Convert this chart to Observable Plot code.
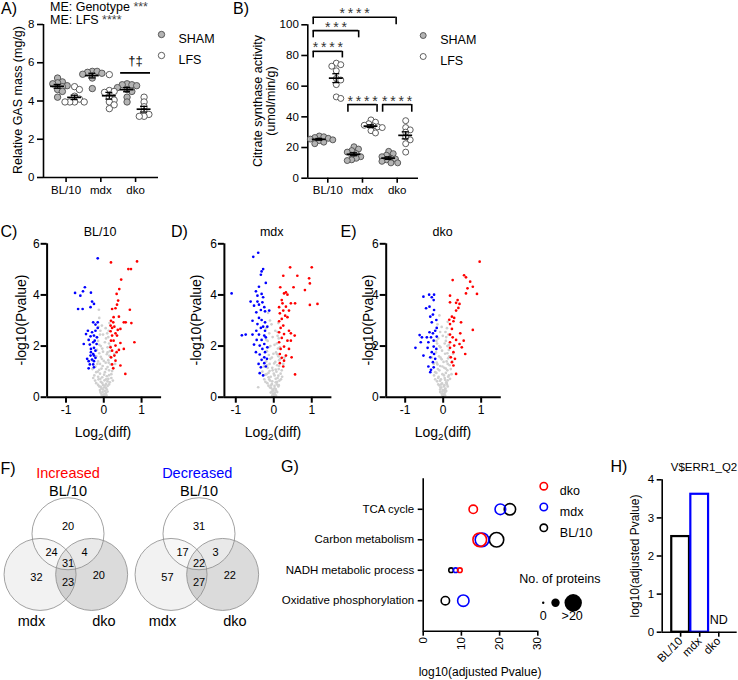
<!DOCTYPE html>
<html><head><meta charset="utf-8">
<script src="https://cdn.jsdelivr.net/npm/d3@7"></script>
<script src="https://cdn.jsdelivr.net/npm/@observablehq/plot@0.6"></script>
<style>
body{margin:0;background:#fff;}
#fig{position:relative;width:738px;height:680px;overflow:hidden;background:#fff;font-family:"Liberation Sans",Arial,Helvetica,sans-serif;color:#000;}
.t{position:absolute;white-space:nowrap;transform:translate(-50%,-50%);line-height:1;}
.lm{position:absolute;white-space:nowrap;transform:translateY(-50%);line-height:1;}
.rot{position:absolute;white-space:nowrap;transform:translate(-50%,-50%) rotate(-90deg);line-height:1;text-align:center;}
sub{font-size:0.7em;vertical-align:-0.3em;line-height:0;}
</style></head><body><div id="fig"></div>
<script>
// ---------------- DATA ----------------
const genotypes = ["BL/10", "mdx", "dko"];
const conditions = ["SHAM", "LFS"];
// A) Relative GAS mass (mg/g)
const gas_BL10_SHAM = [5.2, 5.0, 4.95, 4.9, 4.8, 4.75, 4.6, 4.5, 4.2];
const gas_BL10_LFS  = [4.75, 4.6, 4.25, 4.1, 3.95, 3.95, 3.95, 3.95];
const gas_mdx_SHAM  = [5.55, 5.55, 5.5, 5.45, 5.4, 5.2, 4.65];
const gas_mdx_LFS   = [5.38, 4.55, 4.5, 4.45, 4.2, 4.05, 3.95, 3.8, 3.6];
const gas_dko_SHAM  = [4.9, 4.85, 4.85, 4.8, 4.7, 4.6, 4.5, 4.2, 3.95];
const gas_dko_LFS   = [4.2, 3.95, 3.7, 3.45, 3.3, 3.2, 3.2];
// B) Citrate synthase activity (umol/min/g)
const cs_BL10_SHAM = [27.5, 27, 26.5, 26, 25.5, 25, 24.5, 23.5, 22.5];
const cs_BL10_LFS  = [75, 74, 73, 70, 65, 64, 61, 53, 52];
const cs_mdx_SHAM  = [20.5, 19, 18, 17, 16, 15, 14, 13, 12, 11.5];
const cs_mdx_LFS   = [38, 36.5, 35.5, 34.5, 34, 33.5, 33, 31, 29.5];
const cs_dko_SHAM  = [17.5, 16, 15, 14, 13, 12.5, 12, 11, 10, 10];
const cs_dko_LFS   = [37.5, 33, 31.5, 30, 27, 25, 22.5, 17];
// C) volcano BL/10  [log2(diff), -log10(P)]
const volcC_blue = [[-0.16,5.43],[-0.5,4.3],[-0.76,4.08],[-0.55,4.14],[-0.62,3.97],[-0.34,4.09],[-0.31,3.74],[-0.26,3.65],[-0.35,3.52],[-0.68,3.45],[-0.56,3.45],[-0.28,2.93],[-0.16,2.93],[-0.22,2.84],[-0.16,2.71],[-0.42,2.6],[-0.31,2.54],[-0.22,2.6],[-0.47,2.47],[-0.26,2.41],[-0.35,2.38],[-0.18,2.34],[-0.4,2.24],[-0.24,2.21],[-0.28,2.15],[-0.53,2.08],[-0.19,2.08],[-0.37,2.06],[-0.26,1.93],[-0.34,1.89],[-0.34,1.76],[-0.22,1.82],[-0.28,1.69],[-0.44,1.5],[-0.35,1.63],[-0.26,1.63],[-0.22,1.54],[-0.31,1.47],[-0.4,1.41],[-0.26,1.41],[-0.37,1.28],[-0.28,1.28],[-0.4,1.13],[-0.26,1.17]];
const volcC_red = [[0.19,5.27],[0.88,5.31],[0.65,5.01],[0.72,5.01],[0.46,4.6],[0.41,4.23],[0.34,4.04],[0.38,3.78],[0.35,3.62],[0.31,3.48],[0.22,3.45],[0.69,3.42],[0.4,3.15],[0.26,3.13],[0.19,2.99],[0.25,2.93],[0.53,2.93],[0.58,2.93],[0.73,2.9],[0.18,2.8],[0.28,2.76],[0.22,2.71],[0.44,2.67],[0.37,2.63],[0.18,2.58],[0.31,2.5],[0.22,2.41],[0.35,2.41],[0.19,2.21],[0.26,2.21],[0.44,2.12],[0.81,2.15],[0.31,2.02],[0.18,1.95],[0.53,1.89],[0.4,1.85],[0.22,1.82],[0.34,1.76],[0.28,1.63],[0.19,1.56],[0.31,1.43],[0.22,1.28],[0.44,1.24],[0.25,1.13],[0.57,0.91]];
const volcC_gray = [[-0.13,3.42],[-0.12,3.1],[0.15,2.9],[-0.14,2.75],[0.13,2.6],[-0.1,2.45],[0.12,2.35],[-0.15,2.2],[0.14,2.1],[-0.08,2.0],[0.1,1.95],[-0.18,1.85],[0.16,1.8],[-0.12,1.72],[0.08,1.68],[-0.2,1.6],[0.2,1.55],[-0.05,1.5],[0.12,1.45],[-0.15,1.4],[0.05,1.35],[-0.1,1.3],[0.18,1.28],[-0.22,1.2],[0.1,1.18],[-0.06,1.12],[0.14,1.05],[-0.16,1.0],[0.03,0.98],[-0.1,0.92],[0.2,0.9],[-0.25,0.85],[0.08,0.82],[-0.04,0.78],[0.12,0.72],[-0.14,0.7],[0.02,0.66],[-0.08,0.6],[0.16,0.58],[-0.2,0.55],[0.06,0.52],[-0.02,0.48],[0.1,0.44],[-0.12,0.42],[0.0,0.38],[-0.06,0.34],[0.08,0.3],[-0.1,0.28],[0.03,0.24],[-0.03,0.2],[0.06,0.16],[-0.07,0.14],[0.01,0.1],[-0.02,0.06],[0.04,0.04],[0,0.02],[-0.3,1.1],[0.25,1.15],[-0.28,0.75],[0.24,0.65],[0.3,1.3],[-0.32,1.45],[0.28,1.7],[-0.09,2.6],[0.06,2.3],[-0.04,1.9],
  [-0.05,2.8],[0.05,2.7],[-0.02,2.45],[0.09,2.5],[-0.19,2.35],[0.03,2.15],[-0.12,2.05],[0.17,2.0],[-0.02,1.78],[0.1,1.75],[-0.08,1.58],[0.15,1.62],[0.0,1.42],[-0.17,1.3],[0.13,1.35],[-0.03,1.22],[0.06,1.1],[-0.12,1.07],[0.22,1.02],[-0.2,0.98],[0.01,0.88],[0.14,0.86],[-0.15,0.8],[0.06,0.7],[-0.09,0.72],[0.2,0.75],[-0.23,0.65],[0.1,0.62],[-0.04,0.56],[0.03,0.45],[-0.15,0.48],[0.14,0.5],[-0.08,0.4],[0.06,0.36],[-0.02,0.3],[0.1,0.22],[-0.09,0.2],[0.02,0.12],[-0.05,0.08],[0.07,0.08]];
// D) volcano mdx
const volcD_blue = [[-0.41,5.65],[-0.54,5.49],[-0.28,5.01],[-0.32,4.92],[-0.34,4.79],[-0.21,4.47],[-0.39,4.32],[-0.47,4.14],[-1.11,4.06],[-0.32,4.04],[-0.43,3.97],[-0.28,3.91],[-0.61,3.74],[-0.43,3.74],[-0.3,3.71],[-0.52,3.58],[-0.39,3.62],[-0.25,3.52],[-0.34,3.41],[-0.23,3.36],[-0.12,3.39],[-0.46,3.32],[-0.39,3.1],[-0.56,2.99],[-0.32,3.02],[-0.23,2.93],[-0.43,2.86],[-0.28,2.76],[-0.17,2.76],[-0.34,2.71],[-0.46,2.6],[-0.23,2.6],[-0.84,2.42],[-0.74,2.45],[-0.56,2.45],[-0.39,2.45],[-0.25,2.41],[-0.45,2.24],[-0.32,2.24],[-0.21,2.34],[-0.52,2.06],[-0.37,2.02],[-0.25,2.08],[-0.17,1.95],[-0.3,1.89],[-0.47,1.76],[-0.23,1.76],[-0.37,1.67],[-0.25,1.56],[-0.18,1.5],[-0.32,1.46],[-0.4,1.3],[-0.25,1.33],[-0.34,1.17],[-0.21,1.2],[-0.37,0.94],[-0.28,0.85]];
const volcD_red = [[0.43,5.08],[1.0,5.08],[0.25,4.75],[0.62,4.75],[0.93,4.65],[0.95,4.45],[0.17,4.3],[0.52,4.3],[0.82,4.19],[0.32,4.1],[0.27,4.06],[0.36,4.01],[0.21,3.8],[0.23,3.67],[0.45,3.67],[0.56,3.67],[0.95,3.61],[1.15,3.65],[0.14,3.52],[0.32,3.54],[0.25,3.39],[0.4,3.39],[0.16,3.28],[0.3,3.19],[0.21,3.06],[0.36,3.13],[0.14,2.97],[0.25,2.8],[0.18,2.71],[0.4,2.6],[0.14,2.54],[0.27,2.47],[0.45,2.5],[0.55,2.41],[0.21,2.32],[0.36,2.21],[0.14,2.15],[0.45,2.21],[0.27,1.98],[0.18,1.89],[0.4,1.89],[0.16,1.69],[0.32,1.63],[0.21,1.54],[0.47,1.56],[0.27,1.43],[0.16,1.33],[0.25,1.2],[0.56,0.89]];
const volcD_gray = [[-0.15,3.3],[-0.1,3.0],[0.12,2.9],[-0.2,2.7],[0.1,2.55],[-0.12,2.5],[0.13,2.3],[-0.16,2.2],[0.08,2.1],[-0.09,2.0],[0.11,1.9],[-0.18,1.8],[0.06,1.75],[-0.13,1.65],[0.12,1.6],[-0.05,1.55],[0.14,1.45],[-0.2,1.4],[0.04,1.38],[-0.11,1.3],[0.09,1.25],[-0.16,1.15],[0.13,1.1],[-0.03,1.05],[0.07,1.0],[-0.14,0.95],[0.18,0.92],[-0.22,0.88],[0.02,0.85],[-0.08,0.8],[0.1,0.75],[-0.12,0.7],[0.15,0.65],[-0.04,0.62],[0.05,0.58],[-0.17,0.55],[0.08,0.5],[-0.07,0.46],[0.12,0.42],[-0.1,0.38],[0.02,0.35],[-0.03,0.3],[0.06,0.26],[-0.05,0.22],[0.03,0.18],[-0.02,0.14],[0.01,0.1],[0,0.05],[0.02,0.02],[-0.41,0.39],[0.25,1.3],[-0.26,1.2],[0.22,0.8],[-0.25,0.7],[0.28,1.55],[-0.3,1.0],
  [-0.06,2.85],[0.04,2.6],[-0.03,2.35],[0.1,2.4],[-0.2,2.25],[0.02,2.05],[-0.14,1.95],[0.16,1.95],[-0.01,1.7],[0.09,1.68],[-0.09,1.5],[0.17,1.5],[0.01,1.32],[-0.18,1.25],[0.14,1.22],[-0.04,1.15],[0.05,1.08],[-0.11,1.02],[0.21,1.05],[-0.19,0.9],[0.0,0.92],[0.12,0.84],[-0.14,0.78],[0.05,0.72],[-0.1,0.65],[0.19,0.7],[-0.22,0.6],[0.09,0.6],[-0.05,0.52],[0.02,0.44],[-0.14,0.45],[0.13,0.47],[-0.07,0.36],[0.05,0.32],[-0.01,0.26],[0.09,0.2],[-0.08,0.18],[0.03,0.11],[-0.04,0.07],[0.06,0.06]];
// E) volcano dko
const volcE_blue = [[-0.52,3.93],[-0.37,4.01],[-0.3,3.91],[-0.24,4.01],[-0.25,3.8],[-0.45,3.48],[-0.36,3.54],[-0.24,3.41],[-0.27,3.23],[-0.34,3.15],[-0.18,3.02],[-0.3,2.93],[-0.17,2.71],[-0.21,2.6],[-0.36,2.54],[-0.62,2.43],[-0.27,2.5],[-0.43,2.34],[-0.56,2.34],[-0.32,2.34],[-0.17,2.37],[-0.25,2.21],[-0.39,2.15],[-0.59,2.15],[-0.73,1.93],[-0.41,1.93],[-0.25,1.98],[-0.18,1.89],[-0.3,1.76],[-0.52,1.63],[-0.24,1.69],[-0.34,1.56],[-0.21,1.5],[-0.27,1.37],[-0.39,1.2],[-0.25,1.17],[-0.32,1.07],[-0.34,0.98]];
const volcE_red = [[0.96,5.3],[0.55,4.77],[0.6,4.69],[0.25,4.58],[0.71,4.52],[0.78,4.32],[0.64,4.26],[0.89,4.04],[0.6,4.06],[0.18,3.97],[0.38,3.8],[0.18,3.71],[0.34,3.69],[0.43,3.65],[0.4,3.49],[0.34,3.39],[0.23,3.15],[0.29,3.1],[0.16,3.03],[0.27,2.97],[0.47,2.93],[0.18,2.86],[0.78,2.63],[0.23,2.67],[0.18,2.45],[0.45,2.5],[0.25,2.34],[0.34,2.24],[0.54,2.21],[0.18,2.15],[0.43,2.08],[0.29,2.02],[0.49,1.95],[0.18,1.93],[0.58,1.69],[0.27,1.76],[0.2,1.56],[0.31,1.5],[0.23,1.37],[0.27,1.24],[0.34,0.91]];
const volcE_gray = [[-0.1,3.2],[0.12,2.95],[-0.15,2.85],[0.1,2.7],[-0.08,2.55],[0.14,2.45],[-0.13,2.3],[0.07,2.2],[-0.16,2.1],[0.11,2.0],[-0.07,1.95],[0.15,1.85],[-0.19,1.75],[0.05,1.7],[-0.11,1.6],[0.13,1.52],[-0.04,1.48],[0.09,1.4],[-0.17,1.35],[0.17,1.25],[-0.08,1.22],[0.03,1.15],[-0.14,1.1],[0.11,1.05],[-0.21,0.98],[0.07,0.95],[-0.02,0.9],[0.15,0.85],[-0.12,0.8],[0.04,0.75],[-0.06,0.7],[0.12,0.66],[-0.16,0.62],[0.08,0.58],[-0.03,0.54],[0.1,0.5],[-0.1,0.46],[0.02,0.42],[-0.05,0.38],[0.06,0.34],[-0.08,0.3],[0.03,0.26],[-0.02,0.22],[0.05,0.18],[-0.04,0.14],[0.01,0.1],[0,0.05],[-0.01,0.02],[0.24,1.4],[-0.25,1.3],[0.22,0.9],[-0.24,0.85],[0.26,1.7],[-0.3,1.55],
  [-0.04,2.75],[0.06,2.55],[-0.01,2.4],[0.08,2.35],[-0.18,2.2],[0.04,2.1],[-0.1,2.0],[0.15,2.05],[-0.03,1.82],[0.11,1.72],[-0.07,1.55],[0.16,1.6],[0.01,1.38],[-0.15,1.28],[0.12,1.3],[-0.02,1.2],[0.07,1.12],[-0.1,1.05],[0.2,1.1],[-0.18,0.95],[0.02,0.85],[0.13,0.8],[-0.13,0.75],[0.05,0.68],[-0.08,0.64],[0.18,0.72],[-0.21,0.7],[0.09,0.55],[-0.05,0.5],[0.03,0.47],[-0.13,0.5],[0.12,0.42],[-0.07,0.38],[0.05,0.3],[-0.01,0.28],[0.08,0.24],[-0.08,0.2],[0.02,0.13],[-0.03,0.09],[0.05,0.07]];
// F) Venn counts, regions: [BL/10 only, BL/10∩mdx, all three, BL/10∩dko, mdx only, mdx∩dko, dko only]
const vennSets = ["BL/10", "mdx", "dko"];
const vennPanels = ["Increased", "Decreased"];
const vennIncreased = [20, 24, 31, 4, 32, 23, 20];
const vennDecreased = [31, 17, 22, 3, 57, 27, 22];
// G) pathway enrichment, log10(adjusted Pvalue) and number of proteins
const pathways = ["TCA cycle", "Carbon metabolism", "NADH metabolic process", "Oxidative phosphorylation"];
const enrichBL10 = [22.7, 19.2, 7.3, 5.8];
const enrichMdx  = [20.2, 15.4, 8.5, 10.5];
const enrichDko  = [13.1, 14.8, 9.6, null];
const proteinsBL10 = [12, 16, 3, 8];
const proteinsMdx  = [11, 15, 3, 12];
const proteinsDko  = [8, 15, 3, null];
const proteinLegend = [0, 8, 20];
// H) V$ERR1_Q2 log10(adjusted Pvalue); dko not detected
const errValues = [2.51, 3.62, null];

// ---------------- HELPERS ----------------
const FONT = '"Liberation Sans", Arial, Helvetica, sans-serif';
const fig = document.getElementById("fig");
const intFmt = d => String(d);
function put(svg, left, top) {
  svg.style.position = "absolute"; svg.style.left = left + "px"; svg.style.top = top + "px";
  svg.style.overflow = "visible"; fig.appendChild(svg);
}
function lab(html, x, y, size, cls = "t", color) {
  const d = document.createElement("div");
  d.className = cls; d.style.left = x + "px"; d.style.top = y + "px"; d.style.fontSize = size + "px";
  if (color) d.style.color = color;
  d.innerHTML = html; fig.appendChild(d);
}
const sty = fs => ({background: "transparent", fontFamily: FONT, fontSize: fs + "px", color: "#000"});

function buildSwarm(series, yPer, xPer, r) {
  const rows = [], stats = [];
  for (const s of series) {
    const cx = s.gi + (s.cond === "SHAM" ? -0.245 : 0.245);
    const pts = s.values.map(v => ({v, cond: s.cond}));
    const placed = [];
    for (const p of pts.slice().sort((a, b) => b.v - a.v)) {
      const py = p.v * yPer;
      let off = 0;
      for (let k = 0; k < 60; k++) {
        const c = k === 0 ? 0 : ((k % 2) ? 1 : -1) * Math.ceil(k / 2) * 0.75 * r;
        if (placed.every(q => Math.hypot(q.o - c, q.py - py) >= 1.45 * r)) { off = c; break; }
      }
      placed.push({o: off, py});
      p.x = cx + off / xPer;
    }
    rows.push(...pts);
    const m = d3.mean(s.values), se = d3.deviation(s.values) / Math.sqrt(s.values.length);
    stats.push({x: cx, mean: m, lo: m - se, hi: m + se});
  }
  return {rows, stats};
}

function scatterPanel(cfg, series, extra) {
  const innerW = cfg.W - cfg.mL - cfg.mR, innerH = cfg.H - cfg.mT - cfg.mB;
  const xPer = innerW / (cfg.xd[1] - cfg.xd[0]), yPer = innerH / (cfg.yd[1] - cfg.yd[0]);
  const {rows, stats} = buildSwarm(series, yPer, xPer, cfg.r);
  const svg = Plot.plot({
    width: cfg.W, height: cfg.H, marginLeft: cfg.mL, marginRight: cfg.mR, marginTop: cfg.mT, marginBottom: cfg.mB,
    x: {domain: cfg.xd}, y: {domain: cfg.yd},
    style: sty(11.5),
    marks: [
      Plot.ruleY([cfg.yd[0]], {strokeWidth: 1.6}),
      Plot.ruleX([cfg.xd[0]], {strokeWidth: 1.6}),
      Plot.axisY({ticks: cfg.yTicks, tickFormat: intFmt, tickSize: 6, tickPadding: 3, strokeWidth: 1.6, label: null}),
      Plot.axisX({ticks: [0, 1, 2], tickFormat: i => genotypes[i], tickSize: 5, tickPadding: 3, strokeWidth: 1.6, label: null}),
      Plot.dot(rows.filter(d => d.cond === "SHAM"), {x: "x", y: "v", r: cfg.r, fill: "#b4b4b4", stroke: "#4d4d4d", strokeWidth: 0.9}),
      Plot.dot(rows.filter(d => d.cond === "LFS"), {x: "x", y: "v", r: cfg.r, fill: "#fff", stroke: "#4d4d4d", strokeWidth: 0.9}),
      Plot.ruleY(stats, {y: "mean", x1: d => d.x - 0.2, x2: d => d.x + 0.2, strokeWidth: 1.7}),
      Plot.ruleX(stats, {x: "x", y1: "lo", y2: "hi", strokeWidth: 1.3}),
      Plot.ruleY(stats, {y: "hi", x1: d => d.x - 0.1, x2: d => d.x + 0.1, strokeWidth: 1.3}),
      Plot.ruleY(stats, {y: "lo", x1: d => d.x - 0.1, x2: d => d.x + 0.1, strokeWidth: 1.3}),
      // legend
      Plot.dot([conditions[0]], {frameAnchor: "top-right", dx: cfg.lgDx, dy: cfg.lgDy, r: cfg.r, fill: "#b4b4b4", stroke: "#4d4d4d", strokeWidth: 0.9}),
      Plot.text([conditions[0]], {frameAnchor: "top-right", dx: cfg.lgDx + 17, dy: cfg.lgDy, text: d => d, textAnchor: "start", fontSize: 12.5}),
      Plot.dot([conditions[1]], {frameAnchor: "top-right", dx: cfg.lgDx, dy: cfg.lgDy + 21, r: cfg.r, fill: "#fff", stroke: "#4d4d4d", strokeWidth: 0.9}),
      Plot.text([conditions[1]], {frameAnchor: "top-right", dx: cfg.lgDx + 17, dy: cfg.lgDy + 21, text: d => d, textAnchor: "start", fontSize: 12.5}),
      ...extra
    ]
  });
  put(svg, cfg.left, cfg.top);
}

// ---------------- PANEL A ----------------
scatterPanel(
  {left: 0, top: 0, W: 240, H: 205, mL: 43, mR: 82, mT: 24, mB: 28, xd: [-0.65, 2.66], yd: [0, 8], yTicks: [0, 2, 4, 6, 8], r: 3.2, lgDx: 3, lgDy: 10},
  [
    {gi: 0, cond: "SHAM", values: gas_BL10_SHAM}, {gi: 0, cond: "LFS", values: gas_BL10_LFS},
    {gi: 1, cond: "SHAM", values: gas_mdx_SHAM}, {gi: 1, cond: "LFS", values: gas_mdx_LFS},
    {gi: 2, cond: "SHAM", values: gas_dko_SHAM}, {gi: 2, cond: "LFS", values: gas_dko_LFS}
  ],
  [
    Plot.ruleY([{y: 5.47, x1: 1.57, x2: 2.43}], {y: "y", x1: "x1", x2: "x2", strokeWidth: 1.8}),
    Plot.text([{x: 2, y: 6.1, t: "†‡"}], {x: "x", y: "y", text: "t", fontSize: 13})
  ]
);

// ---------------- PANEL B ----------------
const csBrackets = [
  {x1: -0.42, x2: 1.97, y: 104.9, y0: 100.1, label: "****"},
  {x1: -0.42, x2: 0.89, y: 96.2, y0: 91.5, label: "***"},
  {x1: -0.42, x2: 0.42, y: 82.7, y0: 78.4, label: "****"},
  {x1: 0.58, x2: 1.42, y: 48, y0: 43, label: "****"},
  {x1: 1.58, x2: 2.42, y: 48, y0: 43, label: "****"}
];
scatterPanel(
  {left: 230, top: 0, W: 260, H: 205, mL: 77.3, mR: 72, mT: 24.3, mB: 27.3, xd: [-0.576, 2.614], yd: [0, 100], yTicks: [0, 20, 40, 60, 80, 100], r: 3, lgDx: 4.7, lgDy: 10.7},
  [
    {gi: 0, cond: "SHAM", values: cs_BL10_SHAM}, {gi: 0, cond: "LFS", values: cs_BL10_LFS},
    {gi: 1, cond: "SHAM", values: cs_mdx_SHAM}, {gi: 1, cond: "LFS", values: cs_mdx_LFS},
    {gi: 2, cond: "SHAM", values: cs_dko_SHAM}, {gi: 2, cond: "LFS", values: cs_dko_LFS}
  ],
  [
    Plot.ruleY(csBrackets, {y: "y", x1: "x1", x2: "x2", strokeWidth: 1.6}),
    Plot.ruleX(csBrackets, {x: "x1", y1: "y0", y2: "y", strokeWidth: 1.6}),
    Plot.ruleX(csBrackets, {x: "x2", y1: "y0", y2: "y", strokeWidth: 1.6}),
    Plot.text(csBrackets, {x: d => (d.x1 + d.x2) / 2, y: "y", text: d => d.label.split("").join("\u2009"), dy: -3.5, fontSize: 14, fill: "#333"})
  ]
);

// ---------------- VOLCANO C/D/E ----------------
function volcano({left, fL, fR, xd, red, blue, gray}) {
  const top = 215, H = 225, W = Math.round(fR - left + 12);
  const svg = Plot.plot({
    width: W, height: H, marginLeft: fL - left, marginRight: W - (fR - left), marginTop: 243.3 - top, marginBottom: top + H - 396.7,
    x: {domain: xd}, y: {domain: [0, 6]},
    style: sty(12),
    marks: [
      Plot.dot(gray, {x: d => d[0], y: d => d[1], r: 1.35, fill: "#cfcfcf"}),
      Plot.dot(blue, {x: d => d[0], y: d => d[1], r: 1.35, fill: "#0000ff"}),
      Plot.dot(red, {x: d => d[0], y: d => d[1], r: 1.35, fill: "#ff0000"}),
      Plot.ruleX([xd[0]], {strokeWidth: 2}),
      Plot.ruleY([0], {strokeWidth: 2}),
      Plot.axisY({ticks: [0, 2, 4, 6], tickFormat: intFmt, tickSize: 6, tickPadding: 1.5, strokeWidth: 2, label: null}),
      Plot.axisX({ticks: [-1, 0, 1], tickFormat: intFmt, tickSize: 6, tickPadding: 2, strokeWidth: 2, label: null})
    ]
  });
  put(svg, left, top);
}
volcano({left: 0, fL: 46.6, fR: 161.1, xd: [-1.5, 1.53], red: volcC_red, blue: volcC_blue, gray: volcC_gray});
volcano({left: 182, fL: 223.9, fR: 331.4, xd: [-1.3, 1.53], red: volcD_red, blue: volcD_blue, gray: volcD_gray});
volcano({left: 345, fL: 385.7, fR: 500.8, xd: [-1.5, 1.53], red: volcE_red, blue: volcE_blue, gray: volcE_gray});

// ---------------- VENN F ----------------
{
  const R = 36;
  const circleLayout = [
    {set: "mdx", cx: -0.78, cy: -1.13, fill: "#000", op: 0.05},
    {set: "dko", cx: 0.66, cy: -1.13, fill: "#000", op: 0.14},
    {set: "BL/10", cx: 0, cy: 0, fill: "#fff", op: 0.4}
  ];
  const regionLayout = [[0, 0.2], [-0.46, -0.53], [0, -0.82], [0.46, -0.53], [-0.88, -1.2], [0, -1.34], [0.86, -1.17]];
  const labelLayout = [{x: 0, y: 1.175}, {x: -1.02, y: -2.42}, {x: 1.0, y: -2.42}];
  const counts = [vennIncreased, vennDecreased];
  const circles = vennPanels.flatMap(p => circleLayout.map(c => ({panel: p, ...c})));
  const regions = vennPanels.flatMap((p, pi) => regionLayout.map((pos, k) => ({panel: p, x: pos[0], y: pos[1], n: counts[pi][k]})));
  const setLabels = vennPanels.flatMap(p => vennSets.map((s, k) => ({panel: p, text: s, ...labelLayout[k]})));
  const svg = Plot.plot({
    width: 266, height: 168, marginLeft: 0.9, marginRight: 1.9, marginTop: 0, marginBottom: 0,
    fx: {domain: vennPanels, padding: 0, axis: null},
    x: {domain: [-1.828, 1.828], axis: null}, y: {domain: [-2.687, 1.98], axis: null},
    style: sty(11),
    marks: [
      ...circleLayout.map(c => Plot.dot(circles.filter(d => d.set === c.set), {fx: "panel", x: "cx", y: "cy", r: R, fill: c.fill, fillOpacity: c.op})),
      Plot.dot(circles, {fx: "panel", x: "cx", y: "cy", r: R, fill: "none", stroke: "#8a8a8a", strokeWidth: 0.8}),
      Plot.text(regions, {fx: "panel", x: "x", y: "y", text: "n", fontSize: 11}),
      Plot.text(setLabels, {fx: "panel", x: "x", y: "y", text: "text", fontSize: 14.5}),
      Plot.text([{panel: vennPanels[0], x: 0, y: 1.667}], {fx: "panel", x: "x", y: "y", text: "panel", fontSize: 14.5, fill: "#ff0000"}),
      Plot.text([{panel: vennPanels[1], x: -0.05, y: 1.667}], {fx: "panel", x: "x", y: "y", text: "panel", fontSize: 14.5, fill: "#0000ff"})
    ]
  });
  put(svg, 0, 462);
}

// ---------------- G ----------------
{
  const mk = (vals, counts) => pathways.map((p, i) => ({i, v: vals[i], n: counts[i]})).filter(d => d.v != null);
  const series = [
    {name: "dko", color: "#ff0000"}, {name: "mdx", color: "#0000ff"}, {name: "BL/10", color: "#000"}
  ];
  const rDomain = [0, 20], rRange = [1.2, 8.7];
  const rLegend = d3.scaleLinear(rDomain, rRange);
  const svg = Plot.plot({
    width: 370, height: 210, marginLeft: 172.7, marginRight: 82.7, marginTop: 8.3, marginBottom: 49.3,
    x: {domain: [0, 30]}, y: {domain: [-1, 4], reverse: true},
    r: {type: "linear", domain: rDomain, range: rRange},
    style: sty(11.5),
    marks: [
      Plot.ruleX([0], {strokeWidth: 1.6}),
      Plot.ruleY([4], {strokeWidth: 1.6}),
      Plot.axisY({ticks: [0, 1, 2, 3], tickFormat: i => pathways[i], tickSize: 5, tickPadding: 4, strokeWidth: 1.6, label: null}),
      Plot.axisX({ticks: [0, 10, 20, 30], tickFormat: intFmt, tickRotate: -90, tickSize: 5, tickPadding: 1, strokeWidth: 1.6, label: null}),
      Plot.dot(mk(enrichBL10, proteinsBL10), {x: "v", y: "i", r: "n", stroke: "#000", strokeWidth: 1.6, fill: "none"}),
      Plot.dot(mk(enrichMdx, proteinsMdx), {x: "v", y: "i", r: "n", stroke: "#0000ff", strokeWidth: 1.6, fill: "none"}),
      Plot.dot(mk(enrichDko, proteinsDko), {x: "v", y: "i", r: "n", stroke: "#ff0000", strokeWidth: 1.6, fill: "none"}),
      ...series.flatMap((s, k) => [
        Plot.dot([s.name], {frameAnchor: "top-right", dx: 6, dy: 7.4 + 20.8 * k, r: 3.7, stroke: s.color, strokeWidth: 1.6, fill: "none"}),
        Plot.text([s.name], {frameAnchor: "top-right", dx: 22, dy: 7.4 + 20.8 * k, text: d => d, textAnchor: "start", fontSize: 12.5})
      ]),
      Plot.text(["No. of proteins"], {frameAnchor: "bottom-right", dx: 22, dy: -48.4, text: d => d, textAnchor: "middle", fontSize: 12.5}),
      ...proteinLegend.map((v, k) => Plot.dot([v], {frameAnchor: "bottom-right", dx: [5.4, 17.7, 35.4][k], dy: -28.4, r: rLegend(v), fill: "#000"})),
      Plot.text(["0"], {frameAnchor: "bottom-right", dx: 5.4, dy: -11.7, text: d => d, textAnchor: "middle", fontSize: 12.5}),
      Plot.text([">20"], {frameAnchor: "bottom-right", dx: 34.4, dy: -11.7, text: d => d, textAnchor: "middle", fontSize: 12.5})
    ]
  });
  put(svg, 250, 470);
}

// ---------------- H ----------------
{
  const rows = genotypes.map((g, i) => ({g, i, v: errValues[i]}));
  const colors = ["#000", "#0000ff", "#ff0000"];
  const svg = Plot.plot({
    width: 138, height: 225, marginLeft: 61.7, marginRight: 1.3, marginTop: 24.3, marginBottom: 48.3,
    x: {domain: [-0.965, 2.965]}, y: {domain: [0, 4]},
    style: sty(11.5),
    marks: [
      ...rows.filter(d => d.v != null).map(d =>
        Plot.rect([d], {x1: r => r.i - 0.465, x2: r => r.i + 0.465, y1: 0, y2: "v", fill: "none", stroke: colors[d.i], strokeWidth: 2.2})),
      Plot.text(rows.filter(d => d.v == null), {x: "i", y: () => 0, text: () => "ND", dy: -12.4, fontSize: 12.5}),
      Plot.ruleX([-0.965], {strokeWidth: 1.6}),
      Plot.ruleY([0], {strokeWidth: 1.6}),
      Plot.axisY({ticks: [0, 1, 2, 3, 4], tickFormat: intFmt, tickSize: 5, tickPadding: 3, strokeWidth: 1.6, label: null}),
      Plot.axisX({ticks: [0, 1, 2], tickFormat: i => genotypes[i], tickRotate: -45, tickSize: 5, tickPadding: 2, strokeWidth: 1.6, label: null})
    ]
  });
  put(svg, 600, 455);
}

// ---------------- TEXT LABELS ----------------
lab("A)", 9, 9, 16);
lab("ME: Genotype <span style='color:#444'>***</span>", 50, 6.5, 12.5, "lm");
lab("ME: LFS <span style='color:#444'>****</span>", 50, 20, 12.5, "lm");
lab("Relative GAS mass (mg/g)", 18, 100, 12.5, "rot");
lab("B)", 241, 9, 16);
lab("Citrate synthase activity<br>(umol/min/g)", 263.5, 101, 12.5, "rot");
lab("C)", 9, 232, 16);
lab("D)", 179.5, 232, 16);
lab("E)", 348.5, 232, 16);
lab("BL/10", 100, 232, 12.5);
lab("mdx", 271.7, 232, 12.5);
lab("dko", 442.7, 232, 12.5);
lab("-log10(Pvalue)", 21, 320, 14, "rot");
lab("-log10(Pvalue)", 196, 320, 14, "rot");
lab("-log10(Pvalue)", 368, 320, 14, "rot");
lab("Log<sub>2</sub>(diff)", 103, 432, 14);
lab("Log<sub>2</sub>(diff)", 273, 432, 14);
lab("Log<sub>2</sub>(diff)", 443, 432, 14);
lab("F)", 8, 469, 16);
lab("G)", 290, 467, 16);
lab("log10(adjusted Pvalue)", 480, 671.7, 12);
lab("H)", 619, 467, 16);
lab("V$ERR1_Q2", 704, 468.3, 11.5);
lab("log10(adjusted Pvalue)", 635, 555.5, 12, "rot");
</script></body></html>
